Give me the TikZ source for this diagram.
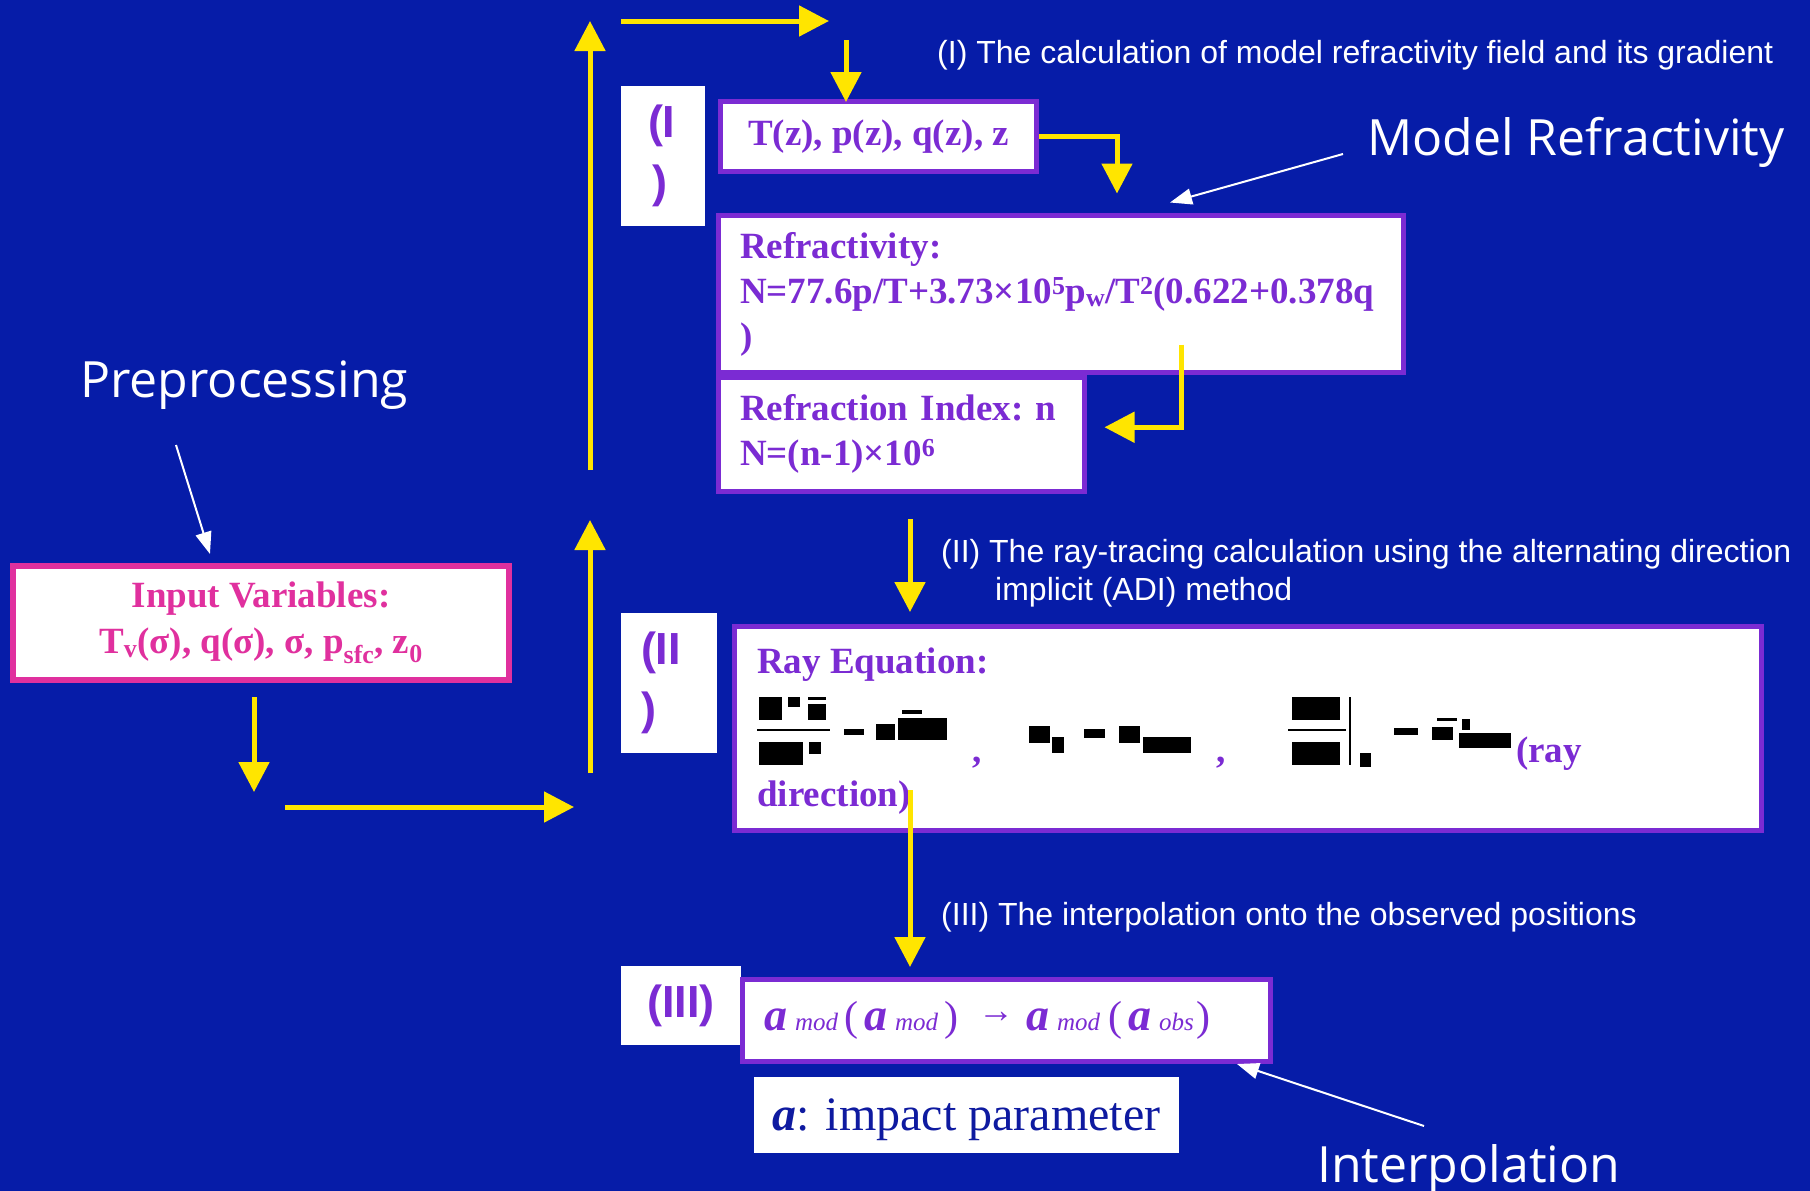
\documentclass[tikz,border=0pt]{standalone}
\usepackage{fontspec}
\setmainfont{Liberation Serif}
\newfontfamily\arialfont{Liberation Sans}
\newfontfamily\chalkfont{Open Sans}
\usetikzlibrary{arrows.meta,positioning}
\definecolor{deepblue}{HTML}{061CA8}
\definecolor{boxviolet}{HTML}{7B2BD3}
\definecolor{inputpink}{HTML}{E0309E}
\definecolor{flowyellow}{HTML}{FFE500}
\definecolor{inkblue}{HTML}{0E1AA0}
\newcommand{\boxfont}{\fontsize{37}{45}\selectfont\bfseries\frenchspacing}
\newcommand{\notefont}{\arialfont\fontsize{32}{38}\selectfont}
\newcommand{\tagfont}{\arialfont\fontsize{45}{60}\selectfont\bfseries}
\newcommand{\callfont}{\chalkfont\fontsize{50}{60}\selectfont}
\newcommand{\apart}[1]{{\bfseries\itshape a}\hspace{8pt}{\fontsize{25}{25}\selectfont\itshape #1}}
\newcommand{\bigparen}[1]{{\fontsize{42}{42}\selectfont #1}}

\begin{document}
\begin{tikzpicture}[
  x=1pt,y=-1pt,
  vbox/.style={draw=boxviolet,line width=5pt,fill=white,text=boxviolet,font=\boxfont,inner sep=0pt},
  tagbox/.style={fill=white,text=boxviolet,font=\tagfont,inner sep=0pt,align=left},
  rayword/.style={anchor=base west,text=boxviolet,font=\boxfont,inner sep=0pt},
  note/.style={text=white,font=\notefont,inner sep=0pt,anchor=base west,align=left},
  callout/.style={text=white,font=\callfont,inner sep=0pt,anchor=base west},
  flow/.style={draw=flowyellow,line width=5pt,-{Triangle[length=30pt,width=30pt]}},
  hint/.style={draw=white,line width=2pt,-{Triangle[length=22pt,width=16pt]}},
  glyph/.style={fill=black}
]
% background
\useasboundingbox (0,0) rectangle (1810,1191);
\fill[deepblue] (0,0) rectangle (1810,1191);

% preprocessing
\node[draw=inputpink,line width=6pt,fill=white,text=inputpink,font=\fontsize{37}{46}\selectfont\bfseries,align=center,minimum width=496pt,minimum height=114pt,inner sep=0pt] (input) at (261,623) {Input Variables:\\T\textsubscript{v}(σ), q(σ), σ, p\textsubscript{sfc}, z\textsubscript{0}};
\node[callout] (prep) at (80,397) {Preprocessing};

% step tags
\node[tagbox,minimum height=140pt,text width=30pt,inner xsep=27pt] (tag1) at (663,156) {(I\\\hspace*{4pt})};
\node[tagbox,minimum height=140pt,text width=56pt,inner xsep=20pt] (tag2) at (669,683) {(II\\)};
\node[tagbox,minimum width=120pt,minimum height=79pt] (tag3) at (681,1005.5) {(III)};

% (I) model refractivity
\node[vbox,minimum width=316pt,minimum height=70pt] (tbox) at (878.5,136.5) {T(z), p(z), q(z), z};
\node[vbox,text width=642pt,minimum height=157pt,inner xsep=21.5pt,align=left] (refr) at (1061,294) {Refractivity:\\N=77.6p/T+3.73×10\textsuperscript{5}p\textsubscript{w}/T\textsuperscript{2}(0.622+0.378q\\)};
\node[vbox,text width=323pt,minimum height=113.5pt,inner xsep=21.5pt,align=left,below=0pt of refr.south west,anchor=north west] (idx) {\mbox{Refraction Index: n}\\N=(n-1)×10\textsuperscript{6}};
\node[note] (note1) at (937,63) {(I) The calculation of model refractivity field and its gradient};
\node[callout] (model) at (1367,155) {Model Refractivity};

% (II) ray tracing
\node[note] (note2) at (941,600) {(II) The ray-tracing calculation using the alternating direction\\\hspace*{54pt}implicit (ADI) method};
\node[vbox,minimum width=1027pt,minimum height=204pt] (ray) at (1248,728.5) {};
\node[rayword] (raytitle) at (757,673) {Ray Equation:};
\node[rayword] (comma1) at (972,762) {,};
\node[rayword] (comma2) at (1216,762) {,};
\node[rayword] (rayend) at (1516,762) {(ray};
\node[rayword] (raydir) at (757,806) {direction)};
\foreach \xa/\ya/\xb/\yb in {759/697/782/720, 788/697/800/707, 808/697/826/700, 808/704/826/720,
  759/742/803/765, 809/742/821/754, 844/729/864/735, 876/724/895/740, 898/718/947/740, 902/710/922/714,
  1029/726/1050/743, 1052/737/1064/753, 1084/729/1105/738, 1119/726/1140/743, 1143/737/1191/753,
  1292/697/1340/720, 1292/742/1340/765, 1360/753/1371/767, 1394/728/1418/735,
  1432/727/1453/740, 1437/718/1457/721, 1462/719/1470/730, 1459/733/1511/748}
  \fill[glyph] (\xa,\ya) rectangle (\xb,\yb);
\draw[line width=1.5pt] (757,730) -- (830,730);
\draw[line width=1.5pt] (1288,730) -- (1346,730);
\draw[line width=2pt] (1350,697) -- (1350,765);

% (III) interpolation
\node[note] (note3) at (941,925) {(III) The interpolation onto the observed positions};
\node[vbox,text width=485pt,minimum height=82pt,inner xsep=21.5pt,align=left,font=\fontsize{46}{50}\selectfont] (ipbox) at (1006.5,1020.5) {\apart{mod}\hspace{6pt}\bigparen{(}\hspace{6pt}\apart{mod}\hspace{6pt}\bigparen{)}\hspace{20pt}\raisebox{8pt}{\fontsize{36}{36}\selectfont →}\hspace{12pt}\apart{mod}\hspace{8pt}\bigparen{(}\hspace{6pt}\apart{obs}\hspace{3pt}\bigparen{)}};
\node[fill=white,text=inkblue,minimum width=425pt,minimum height=76pt,font=\fontsize{48}{48}\selectfont,inner sep=0pt,text depth=0pt] (impact) at (966.5,1115) {{\bfseries\itshape a}: impact parameter};
\node[callout] (interp) at (1317,1182) {Interpolation};

% yellow flow
\draw[flow] ([xshift=-7pt,yshift=-14pt]input.south) -- ++(0,95);
\coordinate (lowturn) at (285,807);
\draw[flow] (lowturn) -- ++(289,0);
\coordinate (riseA) at (590,773);
\draw[flow] (riseA) -- ++(0,-253);
\coordinate (riseB) at (590,470);
\draw[flow] (riseB) -- ++(0,-449);
\coordinate (topturn) at (621,21);
\draw[flow] (topturn) -- ++(208,0);
\coordinate (drop1) at (846,40);
\draw[flow] (drop1) -- ++(0,62);
\draw[flow] (tbox.east) -| ([xshift=56pt,yshift=19.5pt]refr.north);
\draw[flow] ([xshift=120pt,yshift=30.5pt]refr.south) |- ([xshift=17.5pt,yshift=7pt]idx.east);
\coordinate (drop2) at (910,519);
\draw[flow] (drop2) -- ++(0,93);
\coordinate (drop3) at (910,790);
\draw[flow] (drop3) -- ++(0,177);

% white pointers
\draw[hint] ([xshift=96pt,yshift=-48pt]prep.base west) -- ([xshift=-51pt,yshift=9pt]input.north);
\draw[hint] ([xshift=-24pt,yshift=1pt]model.base west) -- ([xshift=109pt,yshift=10.5pt]refr.north);
\draw[hint] ([xshift=107pt,yshift=56pt]interp.base west) -- ([xshift=-36pt]ipbox.south east);
\end{tikzpicture}
\end{document}
